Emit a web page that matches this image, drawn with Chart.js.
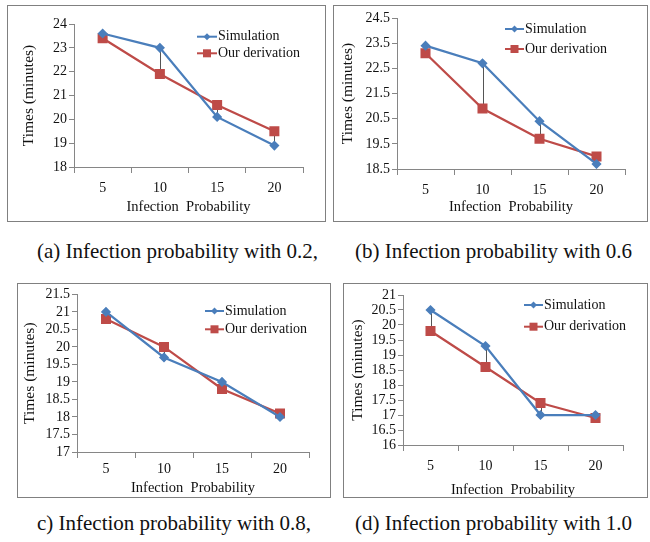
<!DOCTYPE html>
<html>
<head>
<meta charset="utf-8">
<script src="https://cdn.jsdelivr.net/npm/chart.js@4"></script>
<style>
  body { margin: 0; background: #fff; width: 650px; height: 542px; position: relative; overflow: hidden; }
  .box { position: absolute; border: 1px solid #808080; box-sizing: border-box; }
  .box canvas { display: block; }
  .cap { position: absolute; font-family: "Liberation Serif", "Times New Roman", serif; font-size: 21px; line-height: 21px; color: #111; white-space: pre; }
</style>
</head>
<body>
<div class="box" id="boxA" style="left:7px;top:5px;width:319px;height:217px"><canvas id="chartA" width="317" height="215"></canvas></div>
<div class="box" id="boxB" style="left:333px;top:5px;width:315px;height:217px"><canvas id="chartB" width="313" height="215"></canvas></div>
<div class="box" id="boxC" style="left:17px;top:283px;width:314px;height:215px"><canvas id="chartC" width="312" height="213"></canvas></div>
<div class="box" id="boxD" style="left:343px;top:283px;width:305px;height:215px"><canvas id="chartD" width="303" height="213"></canvas></div>

<div class="cap" style="left:37px;top:241px">(a) Infection probability with 0.2,</div>
<div class="cap" style="left:355px;top:241px">(b) Infection probability with 0.6</div>
<div class="cap" style="left:37px;top:513px">c) Infection probability with 0.8,</div>
<div class="cap" style="left:355px;top:513px">(d) Infection probability with 1.0</div>

<script>
// Данные
const categories = ['5', '10', '15', '20'];
const seriesNames = ['Simulation', 'Our derivation'];

const simA = [23.6, 23.0, 20.1, 18.9];
const derA = [23.4, 21.9, 20.6, 19.5];
const simB = [23.4, 22.7, 20.4, 18.7];
const derB = [23.1, 20.9, 19.7, 19.0];
const simC = [21.0, 19.7, 19.0, 18.0];
const derC = [20.8, 20.0, 18.8, 18.1];
const simD = [20.5, 19.3, 17.0, 17.0];
const derD = [19.8, 18.6, 17.4, 16.9];

const yTicksA = { min: 18, max: 24, step: 1 };
const yTicksB = { min: 18.5, max: 24.5, step: 1 };
const yTicksC = { min: 17, max: 21.5, step: 0.5 };
const yTicksD = { min: 16, max: 21, step: 0.5 };

const xTitle = 'Infection  Probability';
const yTitle = 'Times (minutes)';

const FONT = '"Liberation Serif", "Times New Roman", serif';
const BLUE = '#4a7ebb';
const RED = '#be4b48';
const AXIS = '#868686';

// Вертикальные линии между сериями
const dropLines = {
    id: 'dropLines',
    beforeDatasetsDraw(chart) {
        const ctx = chart.ctx;
        const m0 = chart.getDatasetMeta(0).data;
        const m1 = chart.getDatasetMeta(1).data;
        ctx.save();
        ctx.strokeStyle = '#555';
        ctx.lineWidth = 1;
        m0.forEach((p, i) => {
            const q = m1[i];
            const x = Math.round(p.x) + 0.5;
            ctx.beginPath();
            ctx.moveTo(x, p.y);
            ctx.lineTo(x, q.y);
            ctx.stroke();
        });
        ctx.restore();
    }
};

// Легенда внутри области графика
const inlineLegend = {
    id: 'inlineLegend',
    afterDraw(chart, args, opts) {
        const ctx = chart.ctx;
        ctx.save();
        chart.data.datasets.forEach((ds, i) => {
            const y = opts.rows[i];
            ctx.strokeStyle = ds.borderColor;
            ctx.lineWidth = 2;
            ctx.beginPath();
            ctx.moveTo(opts.x0, y);
            ctx.lineTo(opts.x1, y);
            ctx.stroke();
            ctx.fillStyle = ds.backgroundColor;
            const cx = (opts.x0 + opts.x1) / 2;
            if (ds.pointStyle === 'rect') {
                ctx.fillRect(cx - 4, y - 4, 8, 8);
            } else {
                ctx.beginPath();
                ctx.moveTo(cx, y - 3.5);
                ctx.lineTo(cx + 3.5, y);
                ctx.lineTo(cx, y + 3.5);
                ctx.lineTo(cx - 3.5, y);
                ctx.closePath();
                ctx.fill();
            }
            ctx.fillStyle = '#111';
            ctx.font = '14px ' + FONT;
            ctx.textBaseline = 'middle';
            ctx.textAlign = 'left';
            ctx.fillText(seriesNames[i], opts.tx, y);
        });
        ctx.restore();
    }
};

function makeChart(id, sim, der, yt, lay) {
    const ctx = document.getElementById(id).getContext('2d');
    const canvasH = ctx.canvas.height;
    return new Chart(ctx, {
        type: 'line',
        data: {
            labels: categories,
            datasets: [{
                label: seriesNames[0],
                data: sim,
                borderColor: BLUE,
                backgroundColor: BLUE,
                borderWidth: 2.25,
                pointStyle: 'rectRot',
                pointRadius: 3.5,
                tension: 0
            }, {
                label: seriesNames[1],
                data: der,
                borderColor: RED,
                backgroundColor: RED,
                borderWidth: 2.25,
                pointStyle: 'rect',
                pointRadius: 5.5,
                tension: 0
            }]
        },
        options: {
            responsive: false,
            animation: false,
            layout: { padding: { top: lay.top, right: lay.right, left: 0, bottom: 0 } },
            scales: {
                x: {
                    offset: true,
                    afterFit: s => { s.height = lay.xh; },
                    grid: { display: true, drawOnChartArea: false, drawTicks: true, tickLength: 6, color: AXIS, offset: true },
                    border: { display: true, color: AXIS, width: 1 },
                    ticks: { color: '#111', font: { family: FONT, size: 14 }, padding: lay.xpad, maxRotation: 0 },
                    title: { display: true, text: xTitle, color: '#111', font: { family: FONT, size: 14.5 }, padding: { top: 0, bottom: canvasH - lay.xt - 8.7 } }
                },
                y: {
                    min: yt.min,
                    max: yt.max,
                    afterFit: s => { s.width = lay.yw; },
                    grid: { display: true, drawOnChartArea: false, drawTicks: true, tickLength: 5, color: AXIS },
                    border: { display: true, color: AXIS, width: 1 },
                    ticks: {
                        stepSize: yt.step,
                        autoSkip: false,
                        color: '#111',
                        font: { family: FONT, size: 14 },
                        padding: 2,
                        callback: v => String(+v.toFixed(1))
                    },
                    title: { display: true, text: yTitle, color: '#111', font: { family: FONT, size: 15.5 }, padding: { top: lay.yt - 9.3, bottom: 0 } }
                }
            },
            plugins: {
                legend: { display: false },
                tooltip: { enabled: false },
                inlineLegend: lay.legend
            }
        },
        plugins: [dropLines, inlineLegend]
    });
}

document.addEventListener('DOMContentLoaded', function() {
    makeChart('chartA', simA, derA, yTicksA, {
        top: 18, right: 22, yw: 66, xh: 54, xpad: 7, xt: 201, yt: 21,
        legend: { x0: 189, x1: 209, tx: 210, rows: [30.7, 47.3] }
    });
    makeChart('chartB', simB, derB, yTicksB, {
        top: 12, right: 22, yw: 63, xh: 52, xpad: 7, xt: 201, yt: 14,
        legend: { x0: 171, x1: 190, tx: 191, rows: [23, 43] }
    });
    makeChart('chartC', simC, derC, yTicksC, {
        top: 10, right: 21, yw: 59, xh: 45, xpad: 3, xt: 204, yt: 12,
        legend: { x0: 187, x1: 206, tx: 207, rows: [27, 45.3] }
    });
    makeChart('chartD', simD, derD, yTicksD, {
        top: 11, right: 24, yw: 59, xh: 52, xpad: 7, xt: 206, yt: 14,
        legend: { x0: 180, x1: 199, tx: 200, rows: [21, 42.7] }
    });
});
</script>
</body>
</html>
